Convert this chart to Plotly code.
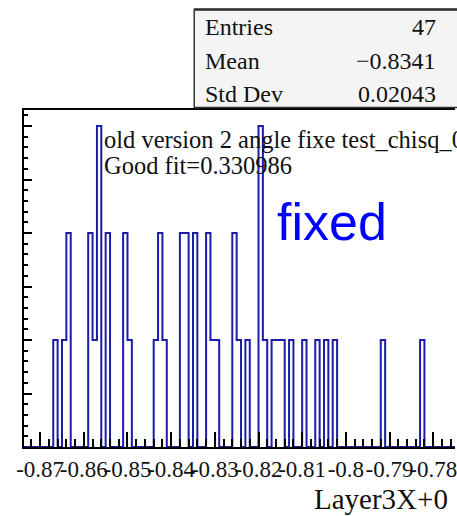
import plotly.graph_objects as go

# ---- data ----
bin_start = -0.874
bin_width = 0.001
counts = [
    0, 0, 0, 0, 0, 0, 0, 1, 0, 1,
    2, 0, 0, 0, 0, 2, 1, 3, 0, 2,
    0, 0, 0, 2, 1, 0, 0, 0, 0, 0,
    1, 2, 1, 0, 0, 0, 2, 2, 0, 2,
    0, 0, 2, 1, 1, 0, 0, 0, 2, 1,
    0, 1, 0, 0, 3, 1, 0, 1, 1, 1,
    0, 1, 0, 0, 1, 0, 0, 1, 0, 1,
    0, 1, 0, 0, 0, 0, 0, 0, 0, 0,
    0, 0, 1, 0, 0, 0, 0, 0, 0, 0,
    0, 1, 0, 0, 0, 0, 0, 0, 0, 0,
]
tick_vals = [-0.87, -0.86, -0.85, -0.84, -0.83, -0.82, -0.81, -0.80, -0.79, -0.78]
tick_text = ["-0.87", "-0.86", "-0.85", "-0.84", "-0.83", "-0.82", "-0.81", "-0.8", "-0.79", "-0.78"]
stat_names = ["Entries", "Mean", "Std Dev"]
stat_values = ["47", "\u22120.8341", "0.02043"]
title_lines = ["old version 2 angle fixe test_chisq_0", "Good fit=0.330986"]
tag_text = "fixed"
x_title = "Layer3X+0"

# ---- geometry ----
W_FIG, H_FIG = 457, 516
L, R, T, B = 24, 457, 110, 447
PW, PH = R - L, B - T


def px(x):
    return (x - L) / PW


def py(y):
    return (B - y) / PH


# step outline of the histogram
n = len(counts)
edges = [bin_start + i * bin_width for i in range(n + 1)]
xs = edges[:n] + [edges[n]]
ys = counts + [0]

fig = go.Figure()
fig.add_trace(go.Scatter(
    x=xs, y=ys, mode="lines", line_shape="hv",
    line=dict(color="#1c1ca8", width=2), hoverinfo="skip", showlegend=False,
))

serif = "Liberation Serif"

fig.update_layout(
    width=W_FIG, height=H_FIG, autosize=False,
    margin=dict(l=L, r=W_FIG - R, t=T, b=H_FIG - B, pad=0),
    paper_bgcolor="white", plot_bgcolor="white",
    showlegend=False,
    xaxis=dict(
        range=[-0.8737, -0.7750], showgrid=False, zeroline=False,
        showline=True, linecolor="black", linewidth=2, mirror=True,
        ticks="inside", ticklen=15, tickwidth=1.5, tickcolor="black",
        tickmode="array", tickvals=tick_vals, ticktext=tick_text,
        tickangle=0, ticklabelstandoff=0, ticklabeloverflow="allow",
        tickfont=dict(family=serif, size=23, color="#111"),
        minor=dict(tickmode="linear", tick0=-0.88, dtick=0.002, ticks="inside",
                   ticklen=8, tickwidth=1.5, tickcolor="black", showgrid=False),
        fixedrange=True,
    ),
    yaxis=dict(
        range=[0, 3.15], showgrid=False, zeroline=False,
        showline=True, linecolor="black", linewidth=2, mirror=False,
        ticks="inside", ticklen=8, tickwidth=1.5, tickcolor="black",
        tickmode="linear", tick0=0, dtick=0.5, showticklabels=False,
        minor=dict(tickmode="linear", tick0=0, dtick=0.1, ticks="inside",
                   ticklen=4, tickwidth=1.5, tickcolor="black", showgrid=False),
        fixedrange=True,
    ),
)

# stats box
fig.add_shape(type="rect", xref="paper", yref="paper",
              x0=px(195), x1=px(475), y0=py(107.5), y1=py(9.5),
              fillcolor="#f4f4f4", line=dict(color="#333", width=1.5), layer="above")
fig.add_shape(type="line", xref="paper", yref="paper",
              x0=px(195), x1=px(475), y0=py(9.5), y1=py(9.5),
              line=dict(color="#333", width=2.5), layer="above")

row_y = [27, 61, 94]
for name, val, yy in zip(stat_names, stat_values, row_y):
    fig.add_annotation(xref="paper", yref="paper", x=px(204), y=py(yy),
                       text=name, showarrow=False, xanchor="left", yanchor="middle",
                       font=dict(family=serif, size=24, color="#111"))
    fig.add_annotation(xref="paper", yref="paper", x=px(440), y=py(yy),
                       text=val, showarrow=False, xanchor="right", yanchor="middle",
                       font=dict(family=serif, size=24, color="#111"))

# title text lines
for line, yy in zip(title_lines, [139, 165]):
    fig.add_annotation(xref="paper", yref="paper", x=px(102), y=py(yy),
                       text=line, showarrow=False, xanchor="left", yanchor="middle",
                       font=dict(family=serif, size=24.5, color="#111"))

# "fixed" label
fig.add_annotation(xref="paper", yref="paper", x=px(276), y=py(222),
                   text=tag_text, showarrow=False, xanchor="left", yanchor="middle",
                   font=dict(family="Liberation Sans", size=52, color="#0000ff"))

# axis title
fig.add_annotation(xref="paper", yref="paper", x=px(452), y=py(499),
                   text=x_title, showarrow=False, xanchor="right", yanchor="middle",
                   font=dict(family=serif, size=29, color="#111"))

fig.write_html("out.html")
